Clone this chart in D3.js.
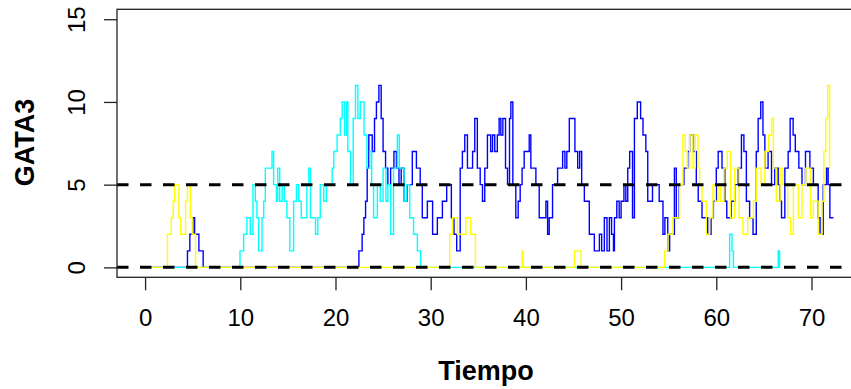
<!DOCTYPE html>
<html>
<head>
<meta charset="utf-8">
<script src="https://cdn.jsdelivr.net/npm/d3@7"></script>
<style>
  html, body { margin: 0; padding: 0; background: #fff; }
  svg { display: block; font-family: "Liberation Sans", Arial, sans-serif; }
</style>
</head>
<body>
<div id="chart"></div>
<script>
// step series (value holds from t[i] until t[i+1]); last time = end of run
const yellowTime = [0, 2.35, 2.75, 2.95, 3.1, 3.55, 3.75, 4.25, 4.45, 4.75, 4.95, 5.3,
  32.0, 32.3, 32.8, 33.7, 34.2, 34.7, 39.6, 39.7, 45.1, 45.8,
  54.57, 54.92, 55.44, 56.15, 56.5, 56.74, 56.95, 57.2, 57.55, 57.8, 58.08, 58.25, 58.5, 58.95,
  59.3, 59.65, 59.9, 60.18, 60.46, 60.8, 61.16, 61.5, 61.93, 62.4, 62.8, 63.3, 63.9, 64.2, 64.7,
  65.1, 65.5, 65.8, 66.0, 66.3, 66.7, 67.0, 67.5, 67.8, 68.1, 68.6, 69.0, 69.4, 69.9, 70.2, 70.7,
  71.1, 71.3, 71.5, 71.7, 71.9, 72.0];
const yellowValue = [0, 2, 3, 4, 5, 3, 2, 4, 5, 3, 2, 0,
  2, 3, 2, 3, 2, 0, 1, 0, 1, 0,
  1, 2, 3, 5, 8, 7, 6, 8, 6, 8, 6, 5, 4, 2,
  3, 5, 4, 5, 4, 6, 7, 3, 6, 3, 2, 3, 4, 6, 5,
  7, 8, 9, 6, 4, 6, 5, 3, 2, 5, 3, 5, 6, 3, 4, 2,
  4, 7, 9, 11, 6, 6];

const cyanTime = [0, 9.97, 10.35, 10.7, 11.05, 11.33, 11.58, 11.75, 11.93, 12.28, 12.46, 12.63,
  13.33, 13.5, 13.8, 13.93, 14.14, 14.4, 14.63, 14.9, 15.2, 15.6, 15.9, 16.14, 16.4, 17.0, 17.2,
  17.37, 17.9, 18.14, 18.4, 18.77, 19.05, 19.65, 19.82, 20.17, 20.5, 20.7, 20.95, 21.16, 21.3,
  21.58, 21.86, 22.1, 22.35, 22.6, 23.0, 23.3, 23.6, 23.8, 24.0, 24.4, 24.7, 25.0, 25.3, 25.5,
  25.8, 26.1, 26.5, 26.7, 27.2, 27.5, 27.8, 28.2, 28.6, 28.95, 61.4, 61.65, 61.8, 66.5, 66.65, 66.7];
const cyanValue = [0, 1, 2, 3, 2, 5, 4, 3, 1, 3, 4, 6,
  7, 5, 4, 6, 4, 5, 4, 3, 1, 4, 5, 4, 3, 5, 6,
  3, 2, 3, 5, 4, 5, 6, 7, 8, 9, 10, 8, 10, 7,
  5, 9, 11, 9, 10, 8, 6, 7, 5, 3, 5, 4, 6, 4, 5,
  2, 6, 8, 6, 4, 5, 3, 2, 1, 0, 2, 1, 0, 1, 0, 0];

const blueTime = [0, 4.45, 4.7, 5.0, 5.2, 5.65, 6.1,
  22.46, 22.8, 22.98, 23.16, 23.33, 23.5, 23.86, 24.1, 24.3, 24.56, 24.8, 25.0, 25.26, 25.5,
  25.79, 26.14, 26.4, 26.67, 26.9, 27.2, 27.54, 28.07, 28.5, 28.9, 29.12, 29.65, 30.2, 30.7,
  31.23, 31.68, 32.17, 32.45, 32.73, 33.1, 33.33, 33.58, 33.86, 34.4, 34.63, 34.9, 35.2, 35.44,
  35.68, 35.96, 36.3, 36.5, 36.73, 37.0, 37.19, 37.37, 37.58, 37.86, 38.07, 38.28, 38.42, 38.63,
  38.94, 39.19, 39.4, 39.6, 39.82, 40.35, 40.52, 41.05, 41.4, 42.1, 42.28, 42.45, 42.8, 43.33,
  43.86, 44.1, 44.3, 44.56, 45.15, 45.44, 45.65, 45.86, 46.14, 46.66, 47.19, 47.72, 47.96, 48.24,
  48.52, 48.77, 49.0, 49.2, 49.3, 49.55, 49.8, 50.0, 50.3, 50.5, 50.7, 50.9, 51.2, 51.4, 51.7,
  52.05, 52.3, 52.6, 52.8, 53.3, 54.0, 54.4, 54.6, 54.9, 55.1, 55.6, 55.8, 56.1, 56.6, 57.0, 57.2,
  57.6, 57.9, 58.1, 58.5, 59.1, 59.45, 59.7, 60.0, 60.2, 60.6, 60.9, 61.1, 61.58, 61.93, 62.3,
  62.64, 62.9, 63.16, 63.5, 63.86, 64.2, 64.4, 64.67, 64.9, 65.1, 65.44, 65.8, 66.14, 66.5, 66.67,
  66.85, 67.2, 67.55, 67.76, 68.07, 68.3, 68.67, 69.0, 69.37, 69.83, 70.2, 70.7, 70.9, 71.23,
  71.58, 71.75, 71.93, 72.3];
const blueValue = [0, 1, 2, 3, 2, 1, 0,
  1, 2, 3, 4, 6, 8, 7, 9, 10, 11, 9, 7, 6, 5,
  6, 7, 6, 5, 6, 4, 5, 7, 6, 5, 3, 4, 2, 3,
  4, 5, 3, 2, 1, 6, 7, 8, 6, 7, 9, 6, 5, 4,
  6, 8, 7, 8, 7, 8, 9, 8, 9, 6, 5, 9, 10, 5,
  3, 4, 5, 6, 7, 8, 6, 5, 3, 4, 2, 3, 5, 6,
  7, 6, 7, 9, 7, 6, 7, 5, 4, 2, 1, 2, 1, 3,
  1, 3, 2, 1, 3, 4, 3, 4, 5, 4, 6, 7, 3, 9, 10,
  9, 8, 7, 4, 5, 4, 2, 3, 1, 2, 6, 3, 5, 6, 7, 8,
  7, 5, 4, 3, 2, 3, 4, 6, 7, 6, 4, 3, 4, 5, 6,
  8, 7, 4, 3, 2, 7, 9, 10, 8, 6, 7, 5, 6, 5, 4,
  3, 6, 7, 9, 8, 7, 6, 5, 7, 6, 5, 3, 2, 5,
  6, 5, 3, 3];

const xTicks = [0, 10, 20, 30, 40, 50, 60, 70];
const yTicks = [0, 5, 10, 15];
const refLevels = [0, 5];

const width = 851, height = 389;
const box = { left: 117, right: 861, top: 9.3, bottom: 277.3 };

const svg = d3.select("#chart").append("svg")
    .attr("width", width)
    .attr("height", height);

svg.append("rect").attr("width", width).attr("height", height).attr("fill", "#fff");

const x = d3.scaleLinear().domain([-2.95, 75.2]).range([box.left, box.right]);
const y = d3.scaleLinear().domain([-0.6, 15.6]).range([box.bottom, box.top]);

svg.append("clipPath").attr("id", "plotclip")
  .append("rect")
    .attr("x", box.left).attr("y", box.top)
    .attr("width", box.right - box.left).attr("height", box.bottom - box.top);

const plot = svg.append("g").attr("clip-path", "url(#plotclip)");

const line = d3.line()
    .x(d => x(d[0]))
    .y(d => y(d[1]))
    .curve(d3.curveStepAfter);

const series = [
  { t: blueTime, v: blueValue, color: "#0000ff" },
  { t: cyanTime, v: cyanValue, color: "#00ffff" },
  { t: yellowTime, v: yellowValue, color: "#ffff00" }
];

series.forEach(s => {
  plot.append("path")
      .datum(d3.zip(s.t, s.v))
      .attr("fill", "none")
      .attr("stroke", s.color)
      .attr("stroke-width", 1.4)
      .attr("d", line);
});

// dashed reference lines
plot.selectAll("line.ref")
  .data(refLevels)
  .enter().append("line")
    .attr("class", "ref")
    .attr("x1", box.left).attr("x2", box.right)
    .attr("y1", d => y(d)).attr("y2", d => y(d))
    .attr("stroke", "#000")
    .attr("stroke-width", 3)
    .attr("stroke-dasharray", "11.5,11.5");

// box
svg.append("rect")
    .attr("x", box.left).attr("y", box.top)
    .attr("width", box.right - box.left).attr("height", box.bottom - box.top)
    .attr("fill", "none")
    .attr("stroke", "#222")
    .attr("stroke-width", 1.3);

// x axis
const xAxis = svg.append("g")
    .attr("transform", "translate(0," + box.bottom + ")")
    .call(d3.axisBottom(x).tickValues(xTicks).tickSize(13).tickPadding(19).tickFormat(d3.format("d")));
xAxis.select(".domain").remove();
xAxis.selectAll("line").attr("stroke", "#222").attr("stroke-width", 1.3);
xAxis.selectAll("text")
    .attr("fill", "#000")
    .style("font-size", "24px")
    .style("font-family", "'Liberation Sans', Arial, sans-serif");

// y axis, labels parallel to the axis
const yAxis = svg.append("g")
    .attr("transform", "translate(" + box.left + ",0)")
    .call(d3.axisLeft(y).tickValues(yTicks).tickSize(13).tickFormat(d3.format("d")));
yAxis.select(".domain").remove();
yAxis.selectAll("line").attr("stroke", "#222").attr("stroke-width", 1.3);
yAxis.selectAll("text")
    .attr("x", null).attr("dy", null)
    .attr("transform", "translate(-32,0) rotate(-90)")
    .attr("text-anchor", "middle")
    .attr("fill", "#000")
    .style("font-size", "24px")
    .style("font-family", "'Liberation Sans', Arial, sans-serif");

// axis titles
svg.append("text")
    .attr("x", 486)
    .attr("y", 379.5)
    .attr("text-anchor", "middle")
    .style("font-size", "27px")
    .style("font-weight", "bold")
    .text("Tiempo");

svg.append("text")
    .attr("transform", "translate(33.5,142.5) rotate(-90)")
    .attr("text-anchor", "middle")
    .style("font-size", "27px")
    .style("font-weight", "bold")
    .text("GATA3");
</script>
</body>
</html>
